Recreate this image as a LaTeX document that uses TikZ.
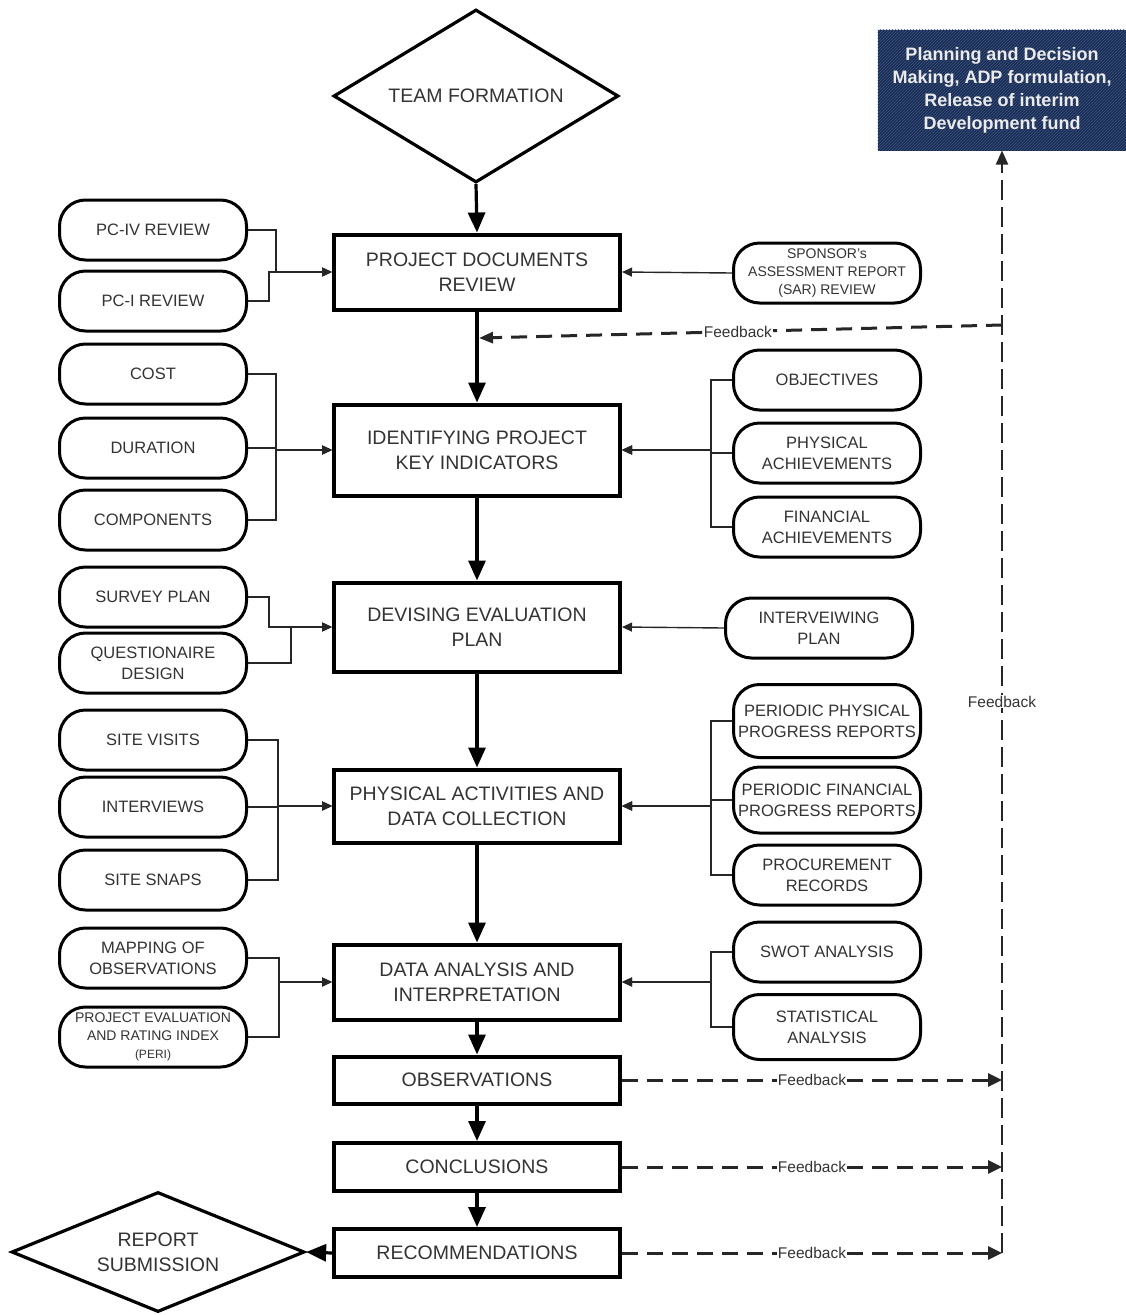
\documentclass[tikz,border=0pt]{standalone}
\usepackage{fontspec}
\setmainfont{Liberation Sans}
\usetikzlibrary{arrows.meta,shapes.geometric,patterns}
\definecolor{txt}{HTML}{333333}
\definecolor{navy}{HTML}{182B52}
\definecolor{navyline}{HTML}{3E5684}
\begin{document}
\begin{tikzpicture}[x=1pt,y=-1pt,
 mainbox/.style={draw=black, line width=4pt, fill=white, text=txt, font=\fontsize{19.5}{25}\selectfont, align=center, minimum width=286pt, inner sep=0pt},
 side/.style={draw=black, line width=3pt, rounded corners=26pt, fill=white, text=txt, font=\fontsize{16.5}{21}\selectfont, align=center, minimum width=187pt, minimum height=60pt, inner sep=0pt},
 flow/.style={line width=3.2pt, -{Triangle[length=20pt,width=17pt]}},
 link/.style={line width=1.4pt, draw=black!85, -{Triangle[length=10pt,width=9pt]}},
 fb/.style={line width=3pt, draw=black!85, dash pattern=on 16pt off 9pt, -{Triangle[length=14pt,width=13pt]}},
 fbv/.style={line width=2pt, draw=black!85, dash pattern=on 20pt off 7pt, -{Triangle[length=14pt,width=12pt]}},
 fblabel/.style={fill=white, text=txt, font=\fontsize{15.5}{18}\selectfont, inner sep=1pt},
 dia/.style={diamond, draw=black, line width=3.2pt, fill=white, text=txt, font=\fontsize{19.5}{25}\selectfont, align=center, inner sep=0pt}
]
\useasboundingbox (0,0) rectangle (1125,1315);

% main column
\node[dia, aspect=1.65, minimum width=285pt, minimum height=173pt] (team) at (476,96) {TEAM FORMATION};
\node[mainbox, minimum height=75pt] (pdr) at (477,272) {PROJECT DOCUMENTS\\REVIEW};
\node[mainbox, minimum height=91pt] (iki) at (477,450) {IDENTIFYING PROJECT\\KEY INDICATORS};
\node[mainbox, minimum height=89pt] (dev) at (477,627) {DEVISING EVALUATION\\PLAN};
\node[mainbox, minimum height=73pt] (pad) at (477,806) {PHYSICAL ACTIVITIES AND\\DATA COLLECTION};
\node[mainbox, minimum height=75pt] (dai) at (477,982) {DATA ANALYSIS AND\\INTERPRETATION};
\node[mainbox, minimum height=47pt] (obs) at (477,1080) {OBSERVATIONS};
\node[mainbox, minimum height=48pt] (con) at (477,1167) {CONCLUSIONS};
\node[mainbox, minimum height=48pt] (rec) at (477,1253) {RECOMMENDATIONS};
\node[dia, aspect=2.44, minimum width=293pt, minimum height=120pt] (rep) at (158,1252) {REPORT\\SUBMISSION};

% planning box
\node[draw=navy, line width=1pt, fill=navy, minimum width=248pt, minimum height=120pt, inner sep=0pt] (plan) at (1002,90) {};
\fill[pattern=north east lines, pattern color=navyline] (plan.north west) rectangle (plan.south east);
\node[text=white!92!black, font=\bfseries\fontsize{18}{23}\selectfont, align=center] (plantext) at (plan.center) {Planning and Decision\\Making, ADP formulation,\\Release of interim\\Development fund};

% left side boxes
\node[side] (pciv) at (153,230) {PC-IV REVIEW};
\node[side] (pci) at (153,301) {PC-I REVIEW};
\node[side] (cost) at (153,374) {COST};
\node[side] (dur) at (153,448) {DURATION};
\node[side] (comp) at (153,520) {COMPONENTS};
\node[side] (surv) at (153,597) {SURVEY PLAN};
\node[side] (quest) at (153,663) {QUESTIONAIRE\\DESIGN};
\node[side] (sv) at (153,740) {SITE VISITS};
\node[side] (intv) at (153,807) {INTERVIEWS};
\node[side] (snaps) at (153,880) {SITE SNAPS};
\node[side] (map) at (153,958) {MAPPING OF\\OBSERVATIONS};
\node[side, font=\fontsize{14}{18}\selectfont] (peri) at (153,1037) {PROJECT EVALUATION\\AND RATING INDEX\\{\fontsize{12}{15}\selectfont (PERI)}};

% right side boxes
\node[side, font=\fontsize{14}{18}\selectfont] (sar) at (827,273) {SPONSOR's\\ASSESSMENT REPORT\\(SAR) REVIEW};
\node[side] (obj) at (827,380) {OBJECTIVES};
\node[side] (phys) at (827,453) {PHYSICAL\\ACHIEVEMENTS};
\node[side] (fin) at (827,527) {FINANCIAL\\ACHIEVEMENTS};
\node[side] (ivp) at (819,628) {INTERVEIWING\\PLAN};
\node[side, minimum height=73pt] (ppp) at (827,721) {PERIODIC PHYSICAL\\PROGRESS REPORTS};
\node[side, minimum height=66pt] (pfp) at (827,800) {PERIODIC FINANCIAL\\PROGRESS REPORTS};
\node[side] (proc) at (827,875) {PROCUREMENT\\RECORDS};
\node[side] (swot) at (827,952) {SWOT ANALYSIS};
\node[side, minimum height=65pt] (stat) at (827,1027) {STATISTICAL\\ANALYSIS};

% main flow
\draw[flow] (team.south) -- (pdr.north);
\draw[flow] (pdr.south) -- (iki.north);
\draw[flow] (iki.south) -- (dev.north);
\draw[flow] (dev.south) -- (pad.north);
\draw[flow] (pad.south) -- (dai.north);
\draw[flow] (dai.south) -- (obs.north);
\draw[flow] (obs.south) -- (con.north);
\draw[flow] (con.south) -- (rec.north);
\draw[flow] (rec.west) -- (rep.east);

% left links
\draw[link] (pciv.east) -- ++(28,0) |- (pdr.west);
\draw[link] (pci.east) -- ++(21,0) |- (pdr.west);
\foreach \n in {cost,dur,comp} \draw[link] (\n.east) -- ++(28,0) |- (iki.west);
\draw[link] (surv.east) -- ++(21,0) |- (dev.west);
\draw[link] (quest.east) -- ++(43,0) |- (dev.west);
\foreach \n in {sv,intv,snaps} \draw[link] (\n.east) -- ++(30,0) |- (pad.west);
\foreach \n in {map,peri} \draw[link] (\n.east) -- ++(31,0) |- (dai.west);

% right links
\draw[link] (sar.west) -- (pdr.east);
\foreach \n in {obj,phys,fin} \draw[link] (\n.west) -- ++(-21,0) |- (iki.east);
\draw[link] (ivp.west) -- (dev.east);
\foreach \n in {ppp,pfp,proc} \draw[link] (\n.west) -- ++(-21,0) |- (pad.east);
\foreach \n in {swot,stat} \draw[link] (\n.west) -- ++(-21,0) |- (dai.east);

% feedback
\coordinate (fbtop) at (1002,325);
\coordinate (fbin) at (479,338);
\draw[fb, -{Triangle[length=14pt,width=11pt]}] (fbtop) -- node[fblabel, pos=0.505] (fl0) {Feedback} (fbin);
\draw[fb] (obs.east) -- node[fblabel, pos=0.5] (fl1) {Feedback} (obs.east -| plan.south);
\draw[fb] (con.east) -- node[fblabel, pos=0.5] (fl2) {Feedback} (con.east -| plan.south);
\draw[fb] (rec.east) -- node[fblabel, pos=0.5] (fl3) {Feedback} (rec.east -| plan.south);
\draw[fbv] (rec.east -| plan.south) -- node[fblabel, pos=0.5] (fl4) {Feedback} (plan.south);
\end{tikzpicture}
\end{document}
